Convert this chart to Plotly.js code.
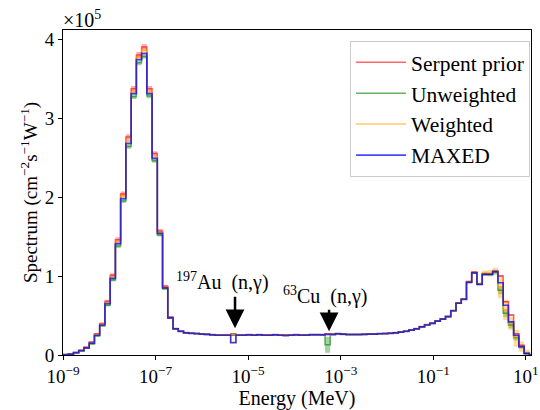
<!DOCTYPE html>
<html><head><meta charset="utf-8">
<script src="https://cdn.plot.ly/plotly-3.0.1.min.js"></script>
<style>html,body{margin:0;padding:0;background:#fff}#chart{width:540px;height:410px}</style>
</head><body><div id="chart"></div>
<script>
// Energy grid (MeV): log-spaced bins
const E_MIN = 1e-9, E_MAX = 20, N_BINS = 91;

// Spectra in units of 1e5 cm^-2 s^-1 W^-1 (one value per bin)
const SERPENT = [
 0.005,0.012,0.033,0.06,0.10,0.165,0.27,0.40,0.68,1.01,
 1.46,2.04,2.76,3.37,3.80,3.90,3.37,2.55,1.57,0.87,
 0.48,0.335,0.305,0.285,0.28,0.275,0.27,0.265,0.26,0.255,
 0.255,0.255,0.27,0.255,0.255,0.26,0.255,0.26,0.255,0.255,
 0.26,0.255,0.255,0.255,0.26,0.255,0.255,0.26,0.26,0.26,
 0.27,0.265,0.27,0.265,0.26,0.26,0.26,0.265,0.265,0.27,
 0.27,0.275,0.28,0.285,0.295,0.305,0.32,0.335,0.36,0.385,
 0.405,0.435,0.46,0.49,0.565,0.66,0.71,0.93,1.05,0.90,
 1.03,1.03,1.065,1.00,0.675,0.505,0.27,0.125,0.02,0.0,
 0.0];
const UNWEIGHTED = [
 0.003,0.006,0.025,0.05,0.085,0.14,0.24,0.37,0.63,0.95,
 1.38,1.95,2.64,3.27,3.70,3.78,3.28,2.46,1.52,0.84,
 0.465,0.33,0.30,0.28,0.275,0.27,0.265,0.26,0.255,0.25,
 0.25,0.25,0.25,0.25,0.25,0.255,0.25,0.255,0.25,0.25,
 0.255,0.25,0.25,0.25,0.255,0.25,0.255,0.26,0.26,0.255,
 0.13,0.255,0.265,0.26,0.255,0.255,0.255,0.26,0.265,0.265,
 0.27,0.27,0.275,0.28,0.29,0.30,0.315,0.33,0.355,0.38,
 0.40,0.43,0.455,0.485,0.56,0.655,0.705,0.92,1.04,0.895,
 1.02,1.02,1.05,0.82,0.53,0.38,0.215,0.10,0.02,0.0,
 0.0];
const WEIGHTED = [
 0.004,0.011,0.031,0.057,0.095,0.155,0.26,0.39,0.665,0.99,
 1.43,2.01,2.71,3.33,3.77,3.86,3.33,2.51,1.55,0.855,
 0.47,0.33,0.30,0.28,0.275,0.27,0.265,0.26,0.255,0.25,
 0.25,0.25,0.16,0.25,0.25,0.255,0.25,0.255,0.25,0.25,
 0.255,0.25,0.25,0.25,0.255,0.25,0.25,0.255,0.255,0.255,
 0.26,0.26,0.27,0.265,0.26,0.26,0.26,0.26,0.265,0.265,
 0.27,0.27,0.275,0.28,0.29,0.30,0.315,0.33,0.355,0.38,
 0.40,0.43,0.455,0.485,0.56,0.655,0.705,0.92,1.04,0.90,
 1.04,1.035,1.065,0.855,0.57,0.40,0.21,0.105,0.035,0.0,
 0.0];
const MAXED = [
 0.005,0.01,0.03,0.055,0.09,0.15,0.25,0.38,0.65,0.97,
 1.41,1.98,2.68,3.31,3.74,3.82,3.31,2.49,1.54,0.85,
 0.47,0.33,0.30,0.28,0.275,0.27,0.265,0.26,0.255,0.25,
 0.25,0.25,0.155,0.25,0.25,0.255,0.25,0.255,0.25,0.25,
 0.255,0.25,0.245,0.25,0.255,0.25,0.25,0.255,0.255,0.255,
 0.26,0.26,0.27,0.265,0.26,0.26,0.26,0.26,0.265,0.265,
 0.27,0.27,0.275,0.28,0.29,0.30,0.315,0.33,0.355,0.38,
 0.40,0.43,0.455,0.485,0.56,0.655,0.705,0.92,1.04,0.895,
 1.02,1.02,1.055,0.915,0.63,0.42,0.25,0.105,0.02,0.0,
 0.0];

// Uncertainty half-widths (same units)
const ERR_SERPENT = [
 0.002,0.003,0.004,0.005,0.006,0.008,0.01,0.012,0.02,0.025,
 0.03,0.03,0.035,0.035,0.035,0.035,0.035,0.03,0.025,0.02,
 0.01,0.005,0.005,0.005,0.005,0.005,0.005,0.005,0.005,0.005,
 0.005,0.005,0.005,0.005,0.005,0.005,0.005,0.005,0.005,0.005,
 0.005,0.005,0.005,0.005,0.005,0.005,0.005,0.005,0.005,0.005,
 0.005,0.005,0.005,0.005,0.005,0.005,0.005,0.005,0.005,0.005,
 0.005,0.005,0.005,0.005,0.005,0.005,0.005,0.005,0.005,0.005,
 0.006,0.006,0.006,0.007,0.008,0.008,0.008,0.01,0.012,0.01,
 0.012,0.012,0.012,0.012,0.01,0.01,0.008,0.005,0.003,0.0,
 0.0];
const ERR_UNWEIGHTED = [
 0.002,0.003,0.004,0.005,0.006,0.008,0.01,0.012,0.015,0.02,
 0.025,0.025,0.03,0.03,0.03,0.03,0.03,0.025,0.02,0.015,
 0.01,0.005,0.005,0.005,0.005,0.005,0.005,0.005,0.005,0.005,
 0.005,0.005,0.005,0.005,0.005,0.005,0.005,0.005,0.005,0.005,
 0.005,0.005,0.005,0.005,0.005,0.005,0.005,0.005,0.005,0.005,
 0.10,0.005,0.005,0.005,0.005,0.005,0.005,0.005,0.005,0.005,
 0.005,0.005,0.005,0.005,0.005,0.005,0.005,0.005,0.005,0.005,
 0.006,0.006,0.006,0.007,0.008,0.008,0.008,0.01,0.012,0.01,
 0.015,0.015,0.03,0.05,0.05,0.04,0.03,0.02,0.01,0.0,
 0.0];
const ERR_WEIGHTED = [
 0.001,0.002,0.003,0.004,0.005,0.006,0.008,0.01,0.012,0.015,
 0.02,0.02,0.02,0.025,0.025,0.025,0.02,0.02,0.015,0.01,
 0.005,0.005,0.005,0.005,0.005,0.005,0.005,0.005,0.005,0.005,
 0.005,0.005,0.01,0.005,0.005,0.005,0.005,0.005,0.005,0.005,
 0.005,0.005,0.005,0.005,0.005,0.005,0.005,0.005,0.005,0.005,
 0.005,0.005,0.005,0.005,0.005,0.005,0.005,0.005,0.005,0.005,
 0.005,0.005,0.005,0.005,0.005,0.005,0.005,0.005,0.005,0.005,
 0.006,0.006,0.006,0.007,0.008,0.008,0.01,0.012,0.015,0.02,
 0.03,0.04,0.04,0.135,0.13,0.085,0.105,0.065,0.035,0.0,
 0.0];

const SERIES_NAMES = ['Serpent prior', 'Unweighted', 'Weighted', 'MAXED'];
const X_TICK_VALS = [1e-9, 1e-7, 1e-5, 1e-3, 1e-1, 1e1];
const X_TICK_TEXT = ['10<sup>−9</sup>', '10<sup>−7</sup>', '10<sup>−5</sup>', '10<sup>−3</sup>', '10<sup>−1</sup>', '10<sup>1</sup>'];
const Y_TICK_VALS = [0, 1, 2, 3, 4];
const Y_TICK_TEXT = ['0', '1', '2', '3', '4'];
const MARKERS = [
  {label: '<sup>197</sup>Au  (n,γ)', energy: 5.2e-6},
  {label: '<sup>63</sup>Cu  (n,γ)', energy: 5.6e-4}
];

// ---- build ----
const lmin = Math.log10(E_MIN), lmax = Math.log10(E_MAX);
const edges = [];
for (let i = 0; i <= N_BINS; i++) edges.push(Math.pow(10, lmin + i * (lmax - lmin) / N_BINS));
const stepY = v => v.concat([v[v.length - 1]]);

const series = [
  {name: SERIES_NAMES[0], v: SERPENT, e: ERR_SERPENT, line: 'rgba(255,0,0,0.6)', band: 'rgba(255,0,0,0.35)', w: 1.5},
  {name: SERIES_NAMES[1], v: UNWEIGHTED, e: ERR_UNWEIGHTED, line: 'rgba(0,128,0,0.6)', band: 'rgba(0,128,0,0.35)', w: 1.5},
  {name: SERIES_NAMES[2], v: WEIGHTED, e: ERR_WEIGHTED, line: 'rgba(255,165,0,0.6)', band: 'rgba(255,165,0,0.4)', w: 1.5},
  {name: SERIES_NAMES[3], v: MAXED, e: null, line: 'rgba(0,0,255,0.72)', band: null, w: 1.7}
];

const traces = [];
series.forEach(s => {
  if (!s.e) return;
  const lo = s.v.map((v, i) => Math.max(0, v - s.e[i]));
  const hi = s.v.map((v, i) => v + s.e[i]);
  traces.push({x: edges, y: stepY(lo), mode: 'lines', line: {width: 0, shape: 'hv'}, showlegend: false, hoverinfo: 'skip'});
  traces.push({x: edges, y: stepY(hi), mode: 'lines', line: {width: 0, shape: 'hv'}, fill: 'tonexty', fillcolor: s.band, showlegend: false, hoverinfo: 'skip'});
});
series.forEach(s => {
  traces.push({x: edges, y: stepY(s.v), mode: 'lines', name: s.name, line: {color: s.line, width: s.w, shape: 'hv'}});
});

const FONT = 'Liberation Serif, DejaVu Serif, serif';
const annotations = [
  {xref: 'paper', yref: 'paper', x: 0, y: 1, xanchor: 'left', yanchor: 'bottom', showarrow: false,
   text: '×10<sup>5</sup>', font: {family: FONT, size: 20, color: '#000'}, xshift: -2, yshift: -3},
  {x: Math.log10(MARKERS[0].energy), y: 0.34, ax: 0, ay: -33, text: '', showarrow: true,
   arrowhead: 2, arrowsize: 1.5, arrowwidth: 2.5, arrowcolor: '#000', standoff: 0},
  {x: Math.log10(MARKERS[1].energy), y: 0.30, ax: 0, ay: -23, text: '', showarrow: true,
   arrowhead: 2, arrowsize: 1.5, arrowwidth: 2.5, arrowcolor: '#000', standoff: 0},
  {x: Math.log10(MARKERS[0].energy) - 0.26, y: 0.93, text: MARKERS[0].label, showarrow: false,
   font: {family: FONT, size: 20, color: '#000'}},
  {x: Math.log10(MARKERS[1].energy) - 0.08, y: 0.75, text: MARKERS[1].label, showarrow: false,
   font: {family: FONT, size: 20, color: '#000'}}
];

const layout = {
  width: 540, height: 410,
  margin: {l: 63, r: 9, t: 30, b: 55},
  paper_bgcolor: '#fff', plot_bgcolor: '#fff',
  font: {family: FONT, size: 19, color: '#000'},
  xaxis: {
    type: 'log', range: [-9, 1.11],
    tickvals: X_TICK_VALS, ticktext: X_TICK_TEXT,
    ticks: 'outside', ticklen: 4, tickwidth: 1, tickcolor: '#000',
    showline: true, linecolor: '#000', linewidth: 1, mirror: true,
    showgrid: false, zeroline: false,
    tickfont: {family: FONT, size: 19},
    title: {text: 'Energy (MeV)', font: {family: FONT, size: 20}, standoff: 4}
  },
  yaxis: {
    range: [0, 4.115],
    tickvals: Y_TICK_VALS, ticktext: Y_TICK_TEXT,
    ticks: 'outside', ticklen: 4, tickwidth: 1, tickcolor: '#000',
    showline: true, linecolor: '#000', linewidth: 1, mirror: true,
    showgrid: false, zeroline: false,
    tickfont: {family: FONT, size: 19},
    title: {text: 'Spectrum (cm<sup>−2</sup>s<sup>−1</sup>W<sup>−1</sup>)', font: {family: FONT, size: 19}, standoff: 2}
  },
  legend: {
    x: 0.998, y: 0.967, xanchor: 'right', yanchor: 'top',
    traceorder: 'normal', itemwidth: 50,
    bgcolor: 'rgba(255,255,255,0.8)', bordercolor: '#cccccc', borderwidth: 1,
    font: {family: FONT, size: 21.5, color: '#000'}
  },
  annotations: annotations,
  showlegend: true
};

Plotly.newPlot('chart', traces, layout, {displayModeBar: false, staticPlot: true});
</script></body></html>
